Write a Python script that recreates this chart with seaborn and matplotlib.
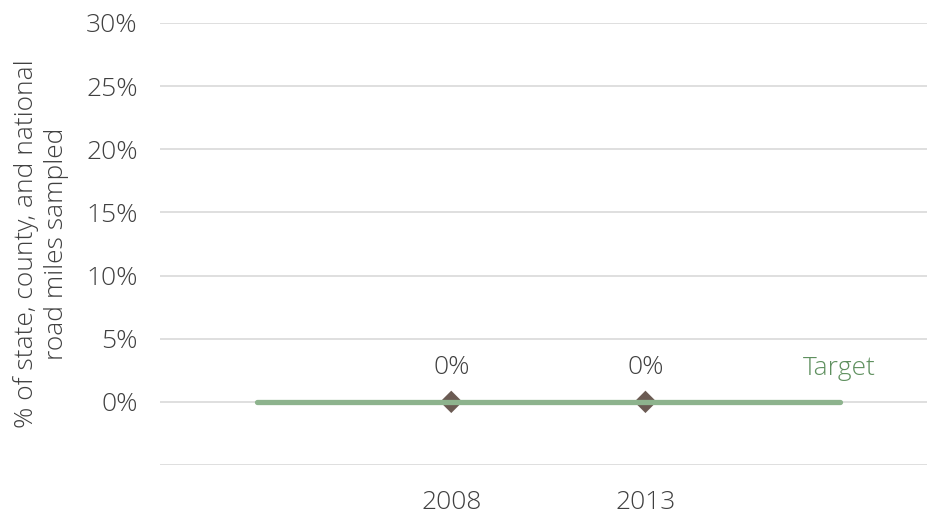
import numpy as np
import pandas as pd
import matplotlib
matplotlib.use("Agg")
import matplotlib.pyplot as plt
import seaborn as sns

# categories along x (first/last are blank padding slots for the target line)
periods = ["", "2008", "2013", ""]
target = [0, 0, 0, 0]
sample_years = ["2008", "2013"]
sample_pct = [0, 0]
y_ticks = [0, 5, 10, 15, 20, 25, 30]

sns.set_theme(style="white")
plt.rcParams["font.family"] = ["Open Sans", "DejaVu Sans"]
plt.rcParams["font.weight"] = "light"
plt.rcParams["axes.labelweight"] = "light"

FS = 19
TXT = "#404040"

fig = plt.figure(figsize=(9.27, 5.14), dpi=100)
ax = fig.add_axes([0.1726, 0.0953, 0.8274, 0.86])

pos = {p: i for i, p in enumerate(periods) if p}
df_t = pd.DataFrame({"x": np.arange(len(periods)), "y": target})
df_s = pd.DataFrame({"x": [pos[y] for y in sample_years], "y": sample_pct})

sns.lineplot(data=df_t, x="x", y="y", ax=ax, color="#8db38d", linewidth=3.8,
             solid_capstyle="round", zorder=3)
sns.scatterplot(data=df_s, x="x", y="y", ax=ax, marker="D", s=130,
                color="#6b5b53", edgecolor="none", zorder=2)

for x, v in zip(df_s["x"], df_s["y"]):
    ax.text(x, v + 2.2, f"{v:.0f}%", ha="center", va="baseline",
            fontsize=FS, color=TXT, fontweight="light")
ax.text(len(periods) - 1, 2.1, "Target", ha="center", va="baseline",
        fontsize=FS, color="#5f905f", fontweight="light")

ax.set_xlim(-0.5, 3.45)
ax.set_ylim(-5, 30)
ax.set_yticks([-5] + y_ticks)
ax.set_yticklabels([""] + [f"{t}%" for t in y_ticks])
ax.set_xticks(np.arange(len(periods)))
ax.set_xticklabels(periods)
ax.yaxis.grid(True, color="#d9d9d9", linewidth=1.2)
ax.xaxis.grid(False)
ax.set_axisbelow(True)
for s in ax.spines.values():
    s.set_visible(False)
ax.tick_params(axis="y", length=0, pad=16, labelsize=FS, labelcolor=TXT)
ax.tick_params(axis="x", length=0, pad=18, labelsize=FS, labelcolor=TXT)
ax.set_xlabel("")
ax.set_ylabel("% of state, county, and national\nroad miles sampled",
              fontsize=FS, color=TXT, fontweight="light", linespacing=1.3,
              labelpad=12)

fig.savefig("out.png", dpi=100)
